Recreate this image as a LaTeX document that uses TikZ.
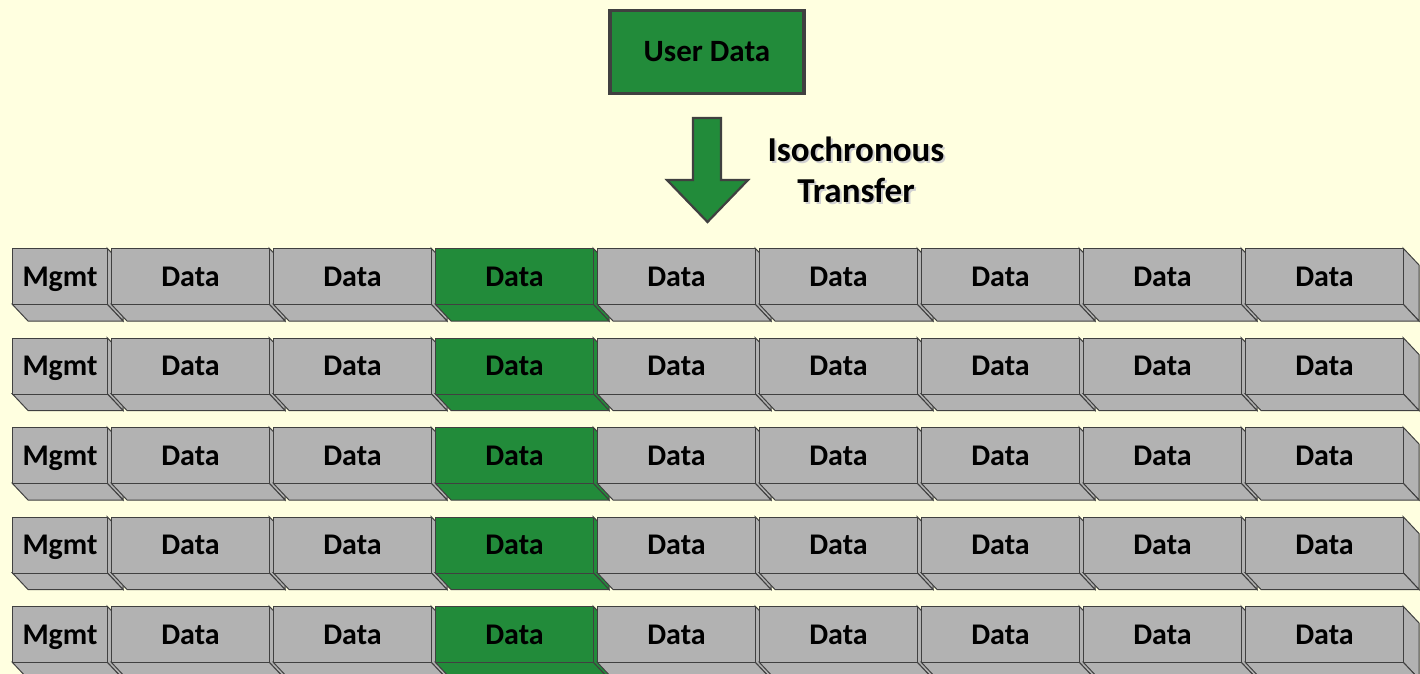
\documentclass[tikz,border=0pt]{standalone}
\usepackage{fontspec}
\setmainfont{Carlito}
\definecolor{bg}{HTML}{FFFFE0}
\definecolor{slotgray}{HTML}{B2B2B2}
\definecolor{slotgreen}{HTML}{228B3A}
\definecolor{edge}{HTML}{404040}
\tikzset{
  slot/.style={draw=edge, line width=0.5pt, inner sep=0pt, text depth=0pt, font=\fontsize{15}{18}\selectfont\bfseries, text=black},
  face/.style={draw=edge, line width=0.5pt, line join=miter},
  userbox/.style={draw=edge, line width=1.6pt, fill=slotgreen, minimum width=97pt, minimum height=41.5pt, font=\fontsize{15.5}{18}\selectfont\bfseries},
  blockarrow/.style={draw=edge, line width=1.1pt, fill=slotgreen, line join=miter},
  caption/.style={align=center, font=\fontsize{17.5}{20.5}\selectfont\bfseries, text=black},
  captionshadow/.style={caption, text=black!18}
}
\newcommand\slotbox[6]{%
  \filldraw[face, fill=#5] (#2+#4,#3) -- ++(16,17) -- ++(0,56) -- ++(-16,-17) -- cycle;
  \filldraw[face, fill=#5] (#2,#3+56) -- ++(#4,0) -- ++(16,17) -- ++(-#4,0) -- cycle;
  \node[slot, fill=#5, minimum width=#4*0.5pt, minimum height=28pt, anchor=north west] (#1) at (#2,#3) {#6};
}
\begin{document}
\begin{tikzpicture}[x=0.5pt, y=-0.5pt]
\useasboundingbox (0,0) rectangle (1420,674);
\clip (0,0) rectangle (1420,674);
\fill[bg] (0,0) rectangle (1420,674);
% user data
\node[userbox] (user) at (707,52) {User Data};
% arrow
\coordinate (atopl) at (693,118);
\coordinate (atopr) at (721,118);
\coordinate (atip) at (707.5,222);
\draw[blockarrow] (atopl) -- (atopr) -- (atopr |- 0,180) -- (748,180) -- (atip) -- (667,180) -- (atopl |- 0,180) -- cycle;
% caption
\node[captionshadow] (capshadow) at (858,172) {Isochronous\\Transfer};
\node[caption] (cap) at (856,170) {Isochronous\\Transfer};
% rows
\foreach \r in {0,...,4}{
  \pgfmathsetmacro\yy{248+89.5*\r}
  \slotbox{m\r}{12}{\yy}{95}{slotgray}{Mgmt}
  \foreach \k in {0,...,7}{
    \pgfmathsetmacro\xx{111+162*\k}
    \ifnum\k=2
      \slotbox{d\r-\k}{\xx}{\yy}{158}{slotgreen}{Data}
    \else
      \slotbox{d\r-\k}{\xx}{\yy}{158}{slotgray}{Data}
    \fi
  }
}
\end{tikzpicture}
\end{document}
